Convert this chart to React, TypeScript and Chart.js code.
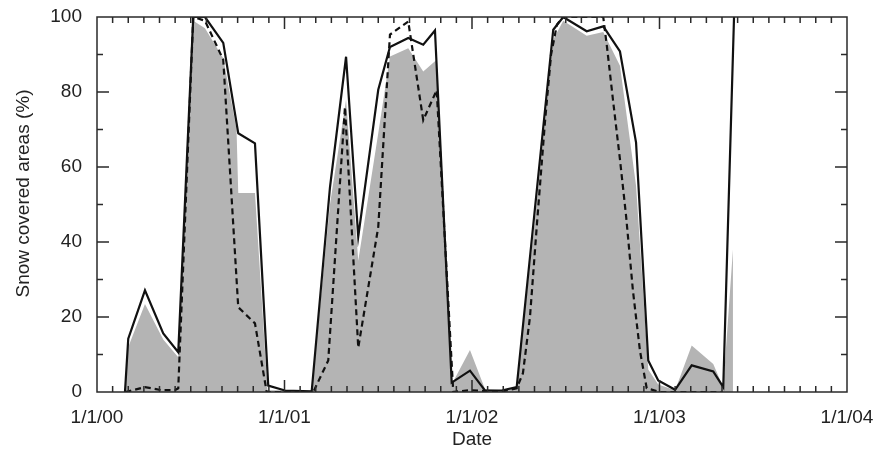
import React, { useEffect, useRef } from "react";
import { Chart, registerables } from "chart.js";

Chart.register(...registerables);

// x values are months since 1/1/00
const solidMonths = [1.79, 2.0, 3.07, 4.24, 5.2, 6.16, 6.91, 8.08, 9.04, 10.11, 10.96, 12.03, 13.74, 14.91, 15.94, 16.72, 18.0, 18.75, 19.92, 20.88, 21.63, 22.7, 23.87, 24.83, 25.9, 26.86, 28.03, 29.2, 29.84, 31.34, 32.4, 33.47, 34.5, 35.28, 35.92, 37.0, 38.06, 39.44, 40.08, 40.77];
const solidValues = [0, 14.2, 27.1, 15.6, 10.6, 100, 100, 93.1, 69.0, 66.3, 1.7, 0.4, 0.2, 54.6, 89.4, 41.4, 80.6, 92.0, 94.4, 92.6, 96.4, 2.5, 5.7, 0.4, 0.4, 1.3, 49, 96.6, 100, 96.2, 97.5, 90.8, 66.5, 8.4, 3.1, 0.6, 7.1, 5.5, 1.3, 100];

const dashedMonths = [1.82, 3.07, 4.1, 4.99, 5.2, 6.16, 6.91, 8.08, 9.04, 10.11, 10.86, 12.03, 13.84, 14.8, 15.87, 16.72, 18.0, 18.75, 19.92, 20.88, 21.74, 22.8, 23.87, 25.79, 26.86, 27.26, 27.71, 28.16, 28.67, 29.06, 29.44, 29.82, 32.4, 32.64, 33.02, 33.47, 33.86, 34.3, 34.75, 35.18, 36.03, 40.05];
const dashedValues = [0, 1.3, 0.5, 0.5, 1, 100, 99, 88.6, 22.6, 18.3, 0, 0, 0, 8.4, 76, 11.8, 44, 95.3, 98.8, 72.5, 80.5, 0, 0.5, 0, 1, 5, 20, 45, 72, 90, 98, 100, 100, 92, 78, 62, 47, 27, 11, 1, 0, 0];

const grayMonths = [1.79, 2.0, 3.07, 4.24, 5.2, 6.16, 6.91, 8.08, 8.93, 9.04, 10.11, 10.91, 12.03, 13.74, 14.91, 15.94, 16.72, 18.0, 18.75, 19.92, 20.88, 21.74, 22.7, 23.87, 24.83, 25.9, 26.86, 28.03, 29.2, 29.84, 31.34, 32.4, 33.47, 34.5, 35.28, 35.92, 37.0, 38.06, 39.44, 40.08, 40.7];
const grayValues = [0, 12, 23.5, 14, 9.3, 99, 97, 89, 70, 53.1, 53.1, 0.5, 0.5, 0.3, 50, 78, 35, 69, 89.5, 91.7, 85.5, 88.6, 2, 11.2, 0.8, 0.5, 1.3, 46, 94, 99, 95, 96, 87, 55, 6, 2, 0.5, 12.4, 7.5, 1.3, 38];

const xTickLabels = ["1/1/00", "1/1/01", "1/1/02", "1/1/03", "1/1/04"];
const xTitle = "Date";
const yTitle = "Snow covered areas (%)";

const pair = (xs: number[], ys: number[]) => xs.map((x, i) => ({ x, y: ys[i] }));

const FONT = "'Liberation Sans', Arial, Helvetica, sans-serif";

const framePlugin = {
  id: "frameTicks",
  afterDatasetsDraw(chart: any) {
    const { ctx, chartArea: a, scales } = chart;
    const xs = scales.x;
    const ys = scales.y;
    ctx.save();
    ctx.strokeStyle = "#2a2a2a";
    ctx.lineWidth = 1.5;
    ctx.beginPath();
    for (let m = 1; m < 48; m++) {
      const px = xs.getPixelForValue(m);
      const len = m % 12 === 0 ? 12 : 6;
      ctx.moveTo(px, a.bottom);
      ctx.lineTo(px, a.bottom - len);
      ctx.moveTo(px, a.top);
      ctx.lineTo(px, a.top + len);
    }
    for (let v = 10; v < 100; v += 10) {
      const py = ys.getPixelForValue(v);
      const len = v % 20 === 0 ? 12 : 6;
      ctx.moveTo(a.left, py);
      ctx.lineTo(a.left + len, py);
      ctx.moveTo(a.right, py);
      ctx.lineTo(a.right - len, py);
    }
    ctx.stroke();
    ctx.strokeRect(a.left, a.top, a.right - a.left, a.bottom - a.top);

    ctx.fillStyle = "#222";
    ctx.font = "19px " + FONT;
    ctx.textAlign = "center";
    ctx.textBaseline = "middle";
    ctx.fillText(xTitle, (a.left + a.right) / 2, a.bottom + 48);
    ctx.translate(24, (a.top + a.bottom) / 2 - 11);
    ctx.rotate(-Math.PI / 2);
    ctx.fillText(yTitle, 0, 0);
    ctx.restore();
  },
};

export default function App() {
  const ref = useRef<HTMLCanvasElement | null>(null);
  useEffect(() => {
    if (!ref.current) return;
    const chart = new Chart(ref.current, {
      type: "line",
      data: {
        datasets: [
          {
            label: "solid",
            data: pair(solidMonths, solidValues),
            borderColor: "#111",
            borderWidth: 2.2,
            pointRadius: 0,
            fill: false,
            tension: 0,
            order: 1,
          },
          {
            label: "dashed",
            data: pair(dashedMonths, dashedValues),
            borderColor: "#111",
            borderWidth: 2.2,
            borderDash: [6, 4],
            pointRadius: 0,
            fill: false,
            tension: 0,
            order: 2,
          },
          {
            label: "gray",
            data: pair(grayMonths, grayValues),
            borderColor: "rgba(0,0,0,0)",
            borderWidth: 0,
            backgroundColor: "#b4b4b4",
            pointRadius: 0,
            fill: "origin",
            tension: 0,
            order: 3,
          },
        ],
      },
      options: {
        animation: false,
        responsive: false,
        devicePixelRatio: 1,
        layout: { padding: { top: 17, right: 31, left: 0, bottom: 0 } },
        plugins: { legend: { display: false }, tooltip: { enabled: false } },
        scales: {
          x: {
            type: "linear",
            min: 0,
            max: 48,
            grid: { display: false, drawTicks: false },
            border: { display: false },
            ticks: {
              stepSize: 12,
              autoSkip: false,
              maxRotation: 0,
              padding: 14,
              color: "#222",
              font: { size: 19, family: FONT },
              callback: (v: any) => xTickLabels[Math.round(Number(v) / 12)] ?? "",
            },
            afterFit: (s: any) => {
              s.height = 57;
              s.paddingLeft = 0;
              s.paddingRight = 0;
            },
          },
          y: {
            min: 0,
            max: 100,
            grid: { display: false, drawTicks: false },
            border: { display: false },
            ticks: {
              stepSize: 20,
              padding: 15,
              color: "#222",
              font: { size: 19, family: FONT },
            },
            afterFit: (s: any) => {
              s.width = 97;
              s.paddingTop = 0;
              s.paddingBottom = 0;
            },
          },
        },
      },
      plugins: [framePlugin],
    });
    return () => chart.destroy();
  }, []);
  return (
    <div style={{ position: "absolute", left: 0, top: 0, width: 878, height: 449, background: "#fff" }}>
      <canvas ref={ref} width={878} height={449} />
    </div>
  );
}
